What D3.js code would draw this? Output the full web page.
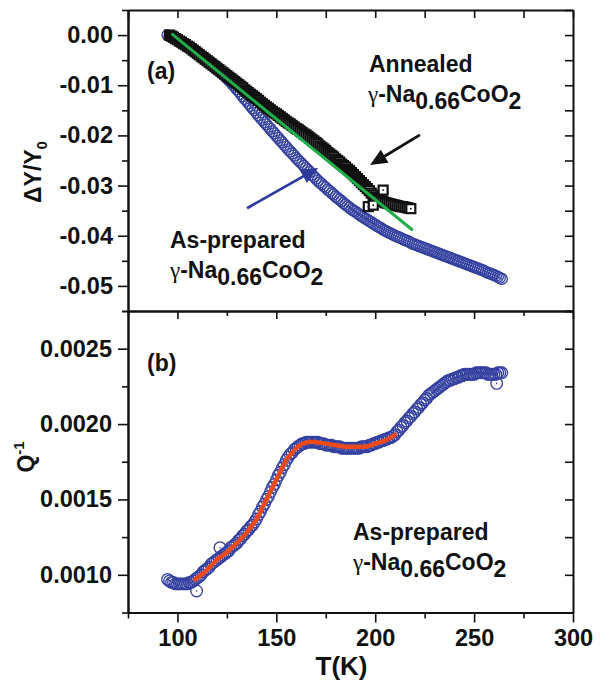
<!DOCTYPE html>
<html><head><meta charset="utf-8">
<script src="https://cdn.jsdelivr.net/npm/d3@7"></script>
<style>body{margin:0;background:#fff}svg{display:block}</style>
</head><body>
<script>
// ---------- ticks ----------
const xTicks = [100, 150, 200, 250, 300];
const xTickLabels = ["100", "150", "200", "250", "300"];
const xMinor = [75, 125, 175, 225, 275];
const yTicksA = [0, -0.01, -0.02, -0.03, -0.04, -0.05];
const yTickLabelsA = ["0.00", "-0.01", "-0.02", "-0.03", "-0.04", "-0.05"];
const yMinorA = [0.005, -0.005, -0.015, -0.025, -0.035, -0.045, -0.055];
const yTicksB = [0.0010, 0.0015, 0.0020, 0.0025];
const yTickLabelsB = ["0.0010", "0.0015", "0.0020", "0.0025"];
const yMinorB = [0.00075, 0.00125, 0.00175, 0.00225, 0.00275];

// ---------- panel (a): as-prepared, circles [T(K), dY/Y0] ----------
const asPreparedA = [
[95,0],[96,-0.0002],[97,-0.0004],[98,-0.0006],[99,-0.0008],[100,-0.0010],[101,-0.0012],[102,-0.0015],[103,-0.0017],[104,-0.0020],
[105,-0.0022],[106,-0.0025],[107,-0.0028],[108,-0.0031],[109,-0.0034],[110,-0.0037],[111,-0.0040],[112,-0.0043],[113,-0.0046],[114,-0.0049],
[115,-0.0052],[116,-0.0055],[117,-0.0058],[118,-0.0062],[119,-0.0065],[120,-0.0068],[121,-0.0071],[122,-0.0075],[123,-0.0078],[124,-0.0082],
[125,-0.0086],[126,-0.0090],[127,-0.0094],[128,-0.0099],[129,-0.0103],[130,-0.0108],[131,-0.0112],[132,-0.0117],[133,-0.0122],[134,-0.0127],
[135,-0.0131],[136,-0.0136],[137,-0.0141],[138,-0.0146],[139,-0.0150],[140,-0.0155],[141,-0.0160],[142,-0.0165],[143,-0.0169],[144,-0.0174],
[145,-0.0178],[146,-0.0183],[147,-0.0187],[148,-0.0192],[149,-0.0196],[150,-0.0201],[151,-0.0205],[152,-0.0210],[153,-0.0214],[154,-0.0219],
[155,-0.0223],[156,-0.0228],[157,-0.0232],[158,-0.0236],[159,-0.0240],[160,-0.0245],[161,-0.0249],[162,-0.0253],[163,-0.0257],[164,-0.0261],
[165,-0.0265],[166,-0.0269],[167,-0.0273],[168,-0.0278],[169,-0.0282],[170,-0.0286],[171,-0.0290],[172,-0.0294],[173,-0.0297],[174,-0.0301],
[175,-0.0304],[176,-0.0308],[177,-0.0311],[178,-0.0315],[179,-0.0318],[180,-0.0322],[181,-0.0325],[182,-0.0328],[183,-0.0331],[184,-0.0335],
[185,-0.0338],[186,-0.0341],[187,-0.0344],[188,-0.0347],[189,-0.0350],[190,-0.0352],[191,-0.0355],[192,-0.0358],[193,-0.0361],[194,-0.0363],
[195,-0.0366],[196,-0.0368],[197,-0.0371],[198,-0.0373],[199,-0.0376],[200,-0.0378],[201,-0.0381],[202,-0.0383],[203,-0.0385],[204,-0.0388],
[205,-0.0390],[206,-0.0392],[207,-0.0394],[208,-0.0396],[209,-0.0398],[210,-0.0400],[211,-0.0402],[212,-0.0403],[213,-0.0405],[214,-0.0407],
[215,-0.0409],[216,-0.0410],[217,-0.0412],[218,-0.0414],[219,-0.0416],[220,-0.0417],[221,-0.0419],[222,-0.0420],[223,-0.0422],[224,-0.0423],
[225,-0.0425],[226,-0.0426],[227,-0.0428],[228,-0.0429],[229,-0.0431],[230,-0.0432],[231,-0.0434],[232,-0.0435],[233,-0.0437],[234,-0.0438],
[235,-0.0440],[236,-0.0441],[237,-0.0443],[238,-0.0444],[239,-0.0446],[240,-0.0447],[241,-0.0449],[242,-0.0450],[243,-0.0452],[244,-0.0453],
[245,-0.0455],[246,-0.0456],[247,-0.0458],[248,-0.0459],[249,-0.0461],[250,-0.0462],[251,-0.0464],[252,-0.0465],[253,-0.0467],[254,-0.0468],
[255,-0.0470],[256,-0.0472],[257,-0.0474],[258,-0.0475],[259,-0.0477],[260,-0.0478],[261,-0.0480],[262,-0.0482],[263,-0.0484],[264,-0.0486]
];
// ---------- panel (a): annealed, squares ----------
const annealedA = [
[96,0],[97,-0.0002],[98,-0.0004],[99,-0.0007],[100,-0.0009],[101,-0.0012],[102,-0.0014],[103,-0.0017],[104,-0.0019],[105,-0.0022],
[106,-0.0024],[107,-0.0027],[108,-0.0030],[109,-0.0033],[110,-0.0036],[111,-0.0039],[112,-0.0042],[113,-0.0045],[114,-0.0048],[115,-0.0051],
[116,-0.0054],[117,-0.0057],[118,-0.0060],[119,-0.0063],[120,-0.0066],[121,-0.0069],[122,-0.0072],[123,-0.0075],[124,-0.0078],[125,-0.0081],
[126,-0.0084],[127,-0.0087],[128,-0.0090],[129,-0.0093],[130,-0.0096],[131,-0.0099],[132,-0.0102],[133,-0.0105],[134,-0.0109],[135,-0.0112],
[136,-0.0115],[137,-0.0118],[138,-0.0121],[139,-0.0124],[140,-0.0127],[141,-0.0130],[142,-0.0134],[143,-0.0137],[144,-0.0140],[145,-0.0143],
[146,-0.0146],[147,-0.0149],[148,-0.0152],[149,-0.0155],[150,-0.0157],[151,-0.0160],[152,-0.0163],[153,-0.0166],[154,-0.0169],[155,-0.0172],
[156,-0.0175],[157,-0.0177],[158,-0.0180],[159,-0.0183],[160,-0.0186],[161,-0.0188],[162,-0.0191],[163,-0.0194],[164,-0.0197],[165,-0.0199],
[166,-0.0202],[167,-0.0205],[168,-0.0208],[169,-0.0211],[170,-0.0214],[171,-0.0217],[172,-0.0221],[173,-0.0224],[174,-0.0227],[175,-0.0230],
[176,-0.0234],[177,-0.0237],[178,-0.0240],[179,-0.0243],[180,-0.0247],[181,-0.0250],[182,-0.0253],[183,-0.0257],[184,-0.0260],[185,-0.0263],
[186,-0.0267],[187,-0.0270],[188,-0.0274],[189,-0.0278],[190,-0.0282],[191,-0.0286],[192,-0.0290],[193,-0.0294],[194,-0.0298],[195,-0.0302],
[196,-0.0306],[197,-0.0310],[198,-0.0315],[199,-0.0319],[200,-0.0323],[201,-0.0326],[202,-0.0328],[203,-0.0330],[204,-0.0332],[205,-0.0334],
[206,-0.0335],[207,-0.0336],[208,-0.0337],[209,-0.0338],[210,-0.0339],[211,-0.0340],[212,-0.0341],[213,-0.0342],[214,-0.0342],[215,-0.0343],
[216,-0.0344],[217,-0.0345],[218,-0.0346],
[196.5,-0.0342],[199,-0.0339],[204,-0.0309]
];
// ---------- panel (a): linear fit (green) ----------
const fitA = [[97,0.0003],[219,-0.0389]];

// ---------- panel (b): Q^-1, circles ----------
const qInv = [
[96,0.00096],[97,0.00095],[98,0.00095],[99,0.00094],[100,0.00094],[101,0.00094],[102,0.00094],[103,0.00094],[104,0.00094],[105,0.00094],
[106,0.00095],[107,0.00095],[108,0.00096],[109,0.00097],[110,0.00098],[111,0.00099],[112,0.00100],[113,0.00102],[114,0.00103],[115,0.00104],
[116,0.00105],[117,0.00107],[118,0.00108],[119,0.00109],[120,0.00110],[121,0.00111],[122,0.00112],[123,0.00113],[124,0.00114],[125,0.00115],
[126,0.00116],[127,0.00118],[128,0.00119],[129,0.00120],[130,0.00121],[131,0.00123],[132,0.00124],[133,0.00126],[134,0.00127],[135,0.00129],
[136,0.00130],[137,0.00132],[138,0.00133],[139,0.00135],[140,0.00137],[141,0.00140],[142,0.00142],[143,0.00145],[144,0.00147],[145,0.00150],
[146,0.00152],[147,0.00155],[148,0.00158],[149,0.00160],[150,0.00163],[151,0.00166],[152,0.00168],[153,0.00171],[154,0.00173],[155,0.00176],
[156,0.00178],[157,0.00180],[158,0.00181],[159,0.00183],[160,0.00184],[161,0.00185],[162,0.00186],[163,0.00187],[164,0.00187],[165,0.00188],
[166,0.00188],[167,0.00188],[168,0.00188],[169,0.00188],[170,0.00188],[171,0.00188],[172,0.00187],[173,0.00187],[174,0.00187],[175,0.00186],
[176,0.00186],[177,0.00186],[178,0.00186],[179,0.00185],[180,0.00185],[181,0.00185],[182,0.00185],[183,0.00184],[184,0.00184],[185,0.00184],
[186,0.00184],[187,0.00184],[188,0.00184],[189,0.00184],[190,0.00184],[191,0.00184],[192,0.00184],[193,0.00185],[194,0.00185],[195,0.00185],
[196,0.00185],[197,0.00186],[198,0.00186],[199,0.00187],[200,0.00187],[201,0.00188],[202,0.00188],[203,0.00189],[204,0.00189],[205,0.00190],
[206,0.00190],[207,0.00191],[208,0.00191],[209,0.00192],[210,0.00193],[211,0.00195],[212,0.00196],[213,0.00198],[214,0.00199],[215,0.00201],
[216,0.00202],[217,0.00204],[218,0.00205],[219,0.00207],[220,0.00208],[221,0.00210],[222,0.00211],[223,0.00213],[224,0.00214],[225,0.00216],
[226,0.00217],[227,0.00219],[228,0.00220],[229,0.00221],[230,0.00222],[231,0.00223],[232,0.00224],[233,0.00225],[234,0.00226],[235,0.00227],
[236,0.00228],[237,0.00229],[238,0.00229],[239,0.00230],[240,0.00230],[241,0.00231],[242,0.00231],[243,0.00232],[244,0.00232],[245,0.00233],
[246,0.00233],[247,0.00233],[248,0.00233],[249,0.00233],[250,0.00233],[251,0.00234],[252,0.00234],[253,0.00234],[254,0.00234],[255,0.00234],
[256,0.00234],[257,0.00233],[258,0.00233],[259,0.00233],[260,0.00233],[261,0.00233],[262,0.00234],[263,0.00234],[264,0.00234],
[121.5,0.00118],[109.7,0.000893],[261.4,0.00227],[95,0.00097]
];
// ---------- panel (b): fit (red) ----------
const fitB = [
[109,0.00097],[114,0.00102],[120,0.00110],[125,0.00115],[130,0.00121],[135,0.00128],[140,0.00137],[145,0.00150],
[150,0.00163],[155,0.00176],[158,0.00181],[162,0.00186],[166,0.00188],[170,0.00188],[175,0.00187],[180,0.00186],
[185,0.00185],[190,0.00185],[195,0.00185],[200,0.00187],[205,0.00189],[210,0.00193]
];

// ---------- styling ----------
const SANS = "'Liberation Sans', Arial, Helvetica, sans-serif";
const BLUE = "#3440a0";
const INK = "#111";

const svg = d3.select("body").append("svg").attr("width", 606).attr("height", 684)
  .style("font-family", SANS);

const x = d3.scaleLinear().domain([75, 300]).range([128, 573]);
const ya = d3.scaleLinear().domain([-0.055, 0.005]).range([311, 10]);
const yb = d3.scaleLinear().domain([0.00075, 0.00275]).range([612.5, 311]);

// ---------- data marks ----------
function circles(data, y, r) {
  const g = svg.append("g");
  data.forEach(d => {
    g.append("circle").attr("cx", x(d[0])).attr("cy", y(d[1])).attr("r", r)
      .attr("fill", "none").attr("stroke", BLUE).attr("stroke-width", 1.3);
    g.append("circle").attr("cx", x(d[0])).attr("cy", y(d[1])).attr("r", 0.8).attr("fill", BLUE);
  });
}
circles(asPreparedA, ya, 5.5);

const gs = svg.append("g");
annealedA.forEach(d => {
  gs.append("rect").attr("x", x(d[0]) - 4.5).attr("y", ya(d[1]) - 4.5).attr("width", 9).attr("height", 9)
    .attr("fill", "#fff").attr("stroke", INK).attr("stroke-width", 2.2);
  gs.append("circle").attr("cx", x(d[0])).attr("cy", ya(d[1])).attr("r", 0.9).attr("fill", INK);
});

svg.append("path").datum(fitA)
  .attr("d", d3.line().x(d => x(d[0])).y(d => ya(d[1])))
  .attr("fill", "none").attr("stroke", "#22ad4b").attr("stroke-width", 3);

circles(qInv, yb, 5.8);
svg.append("path").datum(fitB)
  .attr("d", d3.line().curve(d3.curveCatmullRom).x(d => x(d[0])).y(d => yb(d[1])))
  .attr("fill", "none").attr("stroke", "#ea4a1c").attr("stroke-width", 4.5).attr("stroke-linecap", "round");

// ---------- axes ----------
function styleAxis(g, showText) {
  g.select(".domain").attr("stroke", INK).attr("stroke-width", 2);
  g.selectAll(".tick line").attr("stroke", INK).attr("stroke-width", 1.6);
  g.selectAll(".tick text").attr("fill", INK).attr("font-size", 23.5).attr("font-weight", "bold")
    .attr("font-family", SANS);
  if (!showText) g.selectAll(".tick text").remove();
}
function addAxis(gen, tx, ty, showText) {
  const g = svg.append("g").attr("transform", `translate(${tx},${ty})`).call(gen);
  styleAxis(g, showText);
  return g;
}
// panel a
addAxis(d3.axisLeft(ya).tickValues(yTicksA).tickSize(10).tickSizeOuter(0).tickPadding(5)
  .tickFormat((d, i) => yTickLabelsA[i]), 128, 0, true);
addAxis(d3.axisLeft(ya).tickValues(yMinorA).tickSize(6).tickSizeOuter(0).tickFormat(""), 128, 0, false);
addAxis(d3.axisLeft(ya).tickValues(yTicksA.concat(yMinorA)).tickSize(8).tickSizeOuter(0).tickFormat(""), 573, 0, false);
addAxis(d3.axisBottom(x).tickValues(xTicks.concat(xMinor)).tickSize(8).tickSizeOuter(0).tickFormat(""), 0, 10, false);
// panel b
addAxis(d3.axisLeft(yb).tickValues(yTicksB).tickSize(10).tickSizeOuter(0).tickPadding(6)
  .tickFormat((d, i) => yTickLabelsB[i]), 128, 0, true);
addAxis(d3.axisLeft(yb).tickValues(yMinorB).tickSize(6).tickSizeOuter(0).tickFormat(""), 128, 0, false);
addAxis(d3.axisLeft(yb).tickValues(yTicksB.concat(yMinorB)).tickSize(8).tickSizeOuter(0).tickFormat(""), 573, 0, false);
addAxis(d3.axisBottom(x).tickValues(xTicks).tickSize(8).tickSizeOuter(0).tickFormat(""), 0, 311, false);
addAxis(d3.axisBottom(x).tickValues(xMinor).tickSize(5).tickSizeOuter(0).tickFormat(""), 0, 311, false);
addAxis(d3.axisBottom(x).tickValues(xTicks).tickSize(10).tickSizeOuter(0).tickPadding(7)
  .tickFormat((d, i) => xTickLabels[i]), 0, 612.5, true);
addAxis(d3.axisBottom(x).tickValues(xMinor).tickSize(6).tickSizeOuter(0).tickFormat(""), 0, 612.5, false);

// ---------- axis titles ----------
const yt = svg.append("text").attr("transform", "translate(41,172) rotate(-90)")
  .attr("text-anchor", "middle").attr("font-size", 23).attr("font-weight", "bold").attr("fill", INK);
yt.append("tspan").text("ΔY/Y");
yt.append("tspan").attr("font-size", 15).attr("dy", 6).text("0");

const qt = svg.append("text").attr("transform", "translate(34,457) rotate(-90)")
  .attr("text-anchor", "middle").attr("font-size", 23).attr("font-weight", "bold").attr("fill", INK);
qt.append("tspan").text("Q");
qt.append("tspan").attr("font-size", 15).attr("dy", -10).text("-1");

svg.append("text").attr("x", 341.5).attr("y", 675).attr("text-anchor", "middle")
  .attr("font-size", 26).attr("font-weight", "bold").attr("fill", INK).text("T(K)");

// ---------- annotations ----------
function label(px, py, txt) {
  svg.append("text").attr("x", px).attr("y", py).attr("font-size", 23).attr("font-weight", "bold")
    .attr("fill", INK).text(txt);
}
function formula(px, py) {
  const t = svg.append("text").attr("x", px).attr("y", py).attr("font-size", 23)
    .attr("font-weight", "bold").attr("fill", INK);
  t.append("tspan").attr("font-family", "'Liberation Serif', serif").attr("font-weight", "normal").text("γ");
  t.append("tspan").text("-Na");
  t.append("tspan").attr("dy", 7).text("0.66");
  t.append("tspan").attr("dy", -7).text("CoO");
  t.append("tspan").attr("dy", 7).text("2");
}
label(147, 79, "(a)");
label(147, 371, "(b)");
label(369, 72, "Annealed");
formula(368, 102);
label(170, 248, "As-prepared");
formula(170, 278);
label(353, 540, "As-prepared");
formula(353, 570);

function arrow(p1, p2, color) {
  const x1 = x(p1[0]), y1 = ya(p1[1]), x2 = x(p2[0]), y2 = ya(p2[1]);
  const dx = x2 - x1, dy = y2 - y1, L = Math.hypot(dx, dy), ux = dx / L, uy = dy / L;
  const hl = 17, hw = 7.5, bx = x2 - ux * hl, by = y2 - uy * hl;
  svg.append("line").attr("x1", x1).attr("y1", y1).attr("x2", bx + ux * 2).attr("y2", by + uy * 2)
    .attr("stroke", color).attr("stroke-width", 2.8);
  svg.append("polygon").attr("points",
    `${x2},${y2} ${bx - uy * hw},${by + ux * hw} ${bx + uy * hw},${by - ux * hw}`).attr("fill", color);
}
const annealArrow = [[222.6, -0.0199], [197.4, -0.0259]];
const asPrepArrow = [[135.2, -0.0345], [171.1, -0.0265]];
arrow(annealArrow[0], annealArrow[1], INK);
arrow(asPrepArrow[0], asPrepArrow[1], "#2c3a9c");
</script>
</body></html>
